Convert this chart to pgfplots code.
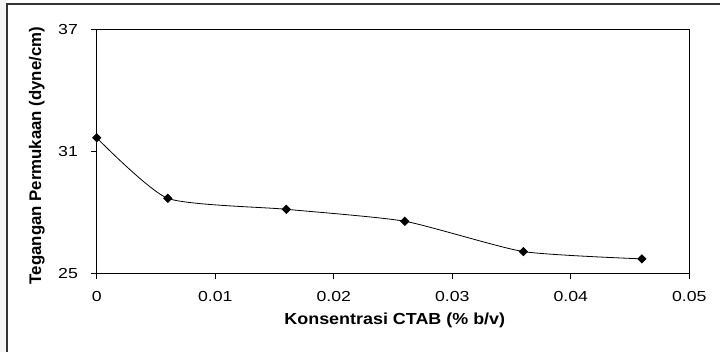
\documentclass[border=0pt]{standalone}
\usepackage{fontspec}
\setmainfont{Liberation Sans}
\usepackage{pgfplots}
\pgfplotsset{compat=1.18}
\begin{document}
\begin{tikzpicture}[x=1pt,y=1pt]
\useasboundingbox (0,0) rectangle (720,352);
\fill[white] (0,0) rectangle (720,352);
\fill[gray!8] (0,0) rectangle (6,352);
\draw[gray!40!black, line width=1.6pt] (7,-5) -- (7,348) -- (725,348);
\begin{axis}[
  at={(96.7pt,78.7pt)}, anchor=south west,
  scale only axis, width=592.6pt, height=243.8pt,
  xmin=0, xmax=0.05, ymin=25, ymax=37,
  scaled x ticks=false,
  xtick={0,0.01,0.02,0.03,0.04,0.05},
  xticklabels={0,0.01,0.02,0.03,0.04,0.05},
  ytick={25,31,37}, yticklabels={25,31,37},
  tick align=outside, xtick pos=bottom, ytick pos=left,
  major tick length=6pt,
  tick style={black, line width=0.8pt},
  axis line style={black, line width=1pt},
  ticklabel style={font=\fontsize{14.5}{16}\selectfont, xscale=1.22},
  xticklabel style={yshift=-9pt},
  yticklabel style={xshift=-7pt},
  xlabel={Konsentrasi CTAB (\% b/v)},
  ylabel={Tegangan Permukaan (dyne/cm)},
  label style={font=\bfseries\fontsize{16}{18}\selectfont},
  xlabel style={at={(axis description cs:0.503,-0.211)}, anchor=base, xscale=1.12},
  ylabel style={at={(axis description cs:-0.101,0.483)}, anchor=center, font=\bfseries\fontsize{16.8}{18}\selectfont},
]
\addplot[black, line width=0.8pt, smooth, tension=0.35, mark=square*, mark size=2.9pt, mark options={rotate=45}]
coordinates {(0,31.67) (0.006,28.69) (0.016,28.15) (0.026,27.56) (0.036,26.07) (0.046,25.71)};
\end{axis}
\end{tikzpicture}
\end{document}
